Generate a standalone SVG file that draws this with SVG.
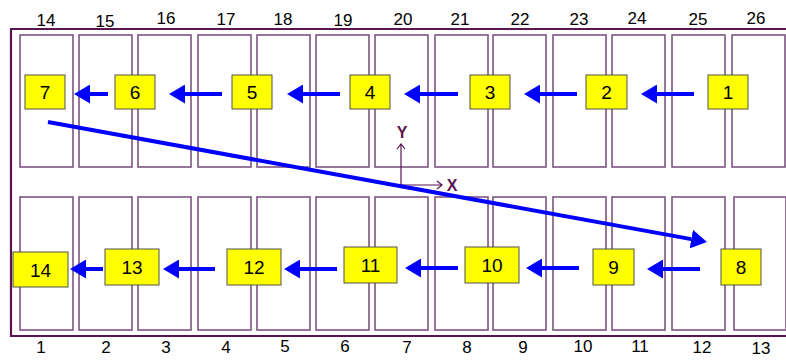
<svg xmlns="http://www.w3.org/2000/svg" width="786" height="360" viewBox="0 0 786 360">
<style>
.slot{fill:#ffffff;stroke:#7e5484;stroke-width:1.6}
.frame{fill:none;stroke:#5a1450;stroke-width:2.2}
.num{font-family:"Liberation Sans",Arial,sans-serif;font-size:17px;fill:#000;text-anchor:middle}
.box rect{fill:#ffff00;stroke:#505050;stroke-width:1}
.box text{font-family:"Liberation Sans",Arial,sans-serif;font-size:19px;fill:#000;text-anchor:middle}
.flow{stroke:#0000ff;stroke-width:4;fill:none;marker-end:url(#ah)}
.axis{stroke:#5a1450;stroke-width:1.2;fill:none}
.axlabel{font-family:"Liberation Sans",Arial,sans-serif;font-size:16px;font-weight:bold;fill:#5a1450;text-anchor:middle}
</style>
<defs>
<marker id="ah" markerUnits="userSpaceOnUse" viewBox="0 0 16 19" refX="0" refY="9.5" markerWidth="16" markerHeight="19" orient="auto">
<path d="M0,0 L16,9.5 L0,19 z" fill="#0000ff"/>
</marker>
</defs>
<rect width="786" height="360" fill="#ffffff"/>
<g id="frame">
<path class="frame" d="M786,29 H11 V336 H786"/>
</g>
<g id="slots-top">
<rect class="slot" x="20" y="35" width="53" height="132"/>
<rect class="slot" x="79" y="35" width="53" height="132"/>
<rect class="slot" x="138" y="35" width="53" height="132"/>
<rect class="slot" x="198" y="35" width="53" height="132"/>
<rect class="slot" x="257" y="35" width="53" height="132"/>
<rect class="slot" x="316" y="35" width="53" height="132"/>
<rect class="slot" x="375" y="35" width="53" height="132"/>
<rect class="slot" x="435" y="35" width="53" height="132"/>
<rect class="slot" x="493" y="35" width="53" height="132"/>
<rect class="slot" x="553" y="35" width="53" height="132"/>
<rect class="slot" x="612" y="35" width="53" height="132"/>
<rect class="slot" x="672" y="35" width="53" height="132"/>
<rect class="slot" x="732" y="35" width="53" height="132"/>
</g>
<g id="slots-bottom">
<rect class="slot" x="20" y="197" width="53" height="133"/>
<rect class="slot" x="79" y="197" width="53" height="133"/>
<rect class="slot" x="138" y="197" width="53" height="133"/>
<rect class="slot" x="198" y="197" width="53" height="133"/>
<rect class="slot" x="257" y="197" width="53" height="133"/>
<rect class="slot" x="316" y="197" width="53" height="133"/>
<rect class="slot" x="375" y="197" width="53" height="133"/>
<rect class="slot" x="435" y="197" width="53" height="133"/>
<rect class="slot" x="493" y="197" width="53" height="133"/>
<rect class="slot" x="553" y="197" width="53" height="133"/>
<rect class="slot" x="612" y="197" width="53" height="133"/>
<rect class="slot" x="672" y="197" width="53" height="133"/>
<rect class="slot" x="734" y="197" width="52" height="133"/>
</g>
<g id="labels-top">
<text class="num" x="46" y="26">14</text>
<text class="num" x="105" y="27">15</text>
<text class="num" x="166" y="24">16</text>
<text class="num" x="226" y="25">17</text>
<text class="num" x="283" y="25">18</text>
<text class="num" x="343" y="26">19</text>
<text class="num" x="403" y="25">20</text>
<text class="num" x="460" y="25">21</text>
<text class="num" x="520" y="25">22</text>
<text class="num" x="579" y="25">23</text>
<text class="num" x="637" y="24">24</text>
<text class="num" x="698" y="25">25</text>
<text class="num" x="756" y="24">26</text>
</g>
<g id="labels-bottom">
<text class="num" x="41" y="353">1</text>
<text class="num" x="106" y="353">2</text>
<text class="num" x="166" y="353">3</text>
<text class="num" x="226" y="353">4</text>
<text class="num" x="285" y="352">5</text>
<text class="num" x="345" y="352">6</text>
<text class="num" x="407" y="353">7</text>
<text class="num" x="467" y="353">8</text>
<text class="num" x="523" y="353">9</text>
<text class="num" x="583" y="352">10</text>
<text class="num" x="640" y="352">11</text>
<text class="num" x="702" y="353">12</text>
<text class="num" x="761" y="354">13</text>
</g>
<g id="axes">
<path class="axis" d="M401,185 V144 M397,149 L401,144 L405,149"/>
<path class="axis" d="M400,185 H442 M437,181 L442,185 L437,189"/>
<text class="axlabel" x="402" y="138">Y</text>
<text class="axlabel" x="452" y="191">X</text>
</g>
<g id="connectors">
<line class="flow" x1="108" y1="94" x2="90" y2="94"/>
<line class="flow" x1="222" y1="94" x2="185" y2="94"/>
<line class="flow" x1="340" y1="94" x2="303" y2="94"/>
<line class="flow" x1="458" y1="94" x2="420" y2="94"/>
<line class="flow" x1="577" y1="94" x2="540" y2="94"/>
<line class="flow" x1="694" y1="94" x2="657" y2="94"/>
<line class="flow" x1="48" y1="122" x2="691.3" y2="239.1"/>
<line class="flow" x1="700" y1="269" x2="663" y2="269"/>
<line class="flow" x1="579" y1="268" x2="542" y2="268"/>
<line class="flow" x1="458" y1="268" x2="421" y2="268"/>
<line class="flow" x1="337" y1="269" x2="300" y2="269"/>
<line class="flow" x1="215" y1="269" x2="179" y2="269"/>
<line class="flow" x1="103" y1="269" x2="86" y2="269"/>
</g>
<g id="n1" class="box"><rect x="708" y="75" width="40" height="34"/><text x="728" y="99">1</text></g>
<g id="n2" class="box"><rect x="586" y="75" width="41" height="34"/><text x="606.5" y="99">2</text></g>
<g id="n3" class="box"><rect x="470" y="75" width="40" height="34"/><text x="490" y="99">3</text></g>
<g id="n4" class="box"><rect x="350" y="75" width="40" height="34"/><text x="370" y="99">4</text></g>
<g id="n5" class="box"><rect x="232" y="75" width="40" height="34"/><text x="252" y="99">5</text></g>
<g id="n6" class="box"><rect x="115" y="75" width="40" height="34"/><text x="135" y="99">6</text></g>
<g id="n7" class="box"><rect x="25" y="75" width="40" height="34"/><text x="45" y="99">7</text></g>
<g id="n8" class="box"><rect x="721" y="249" width="40" height="36"/><text x="741" y="274">8</text></g>
<g id="n9" class="box"><rect x="593" y="249" width="41" height="36"/><text x="613.5" y="274">9</text></g>
<g id="n10" class="box"><rect x="465" y="247" width="54" height="36"/><text x="492" y="272">10</text></g>
<g id="n11" class="box"><rect x="344" y="247" width="53" height="36"/><text x="370.5" y="272">11</text></g>
<g id="n12" class="box"><rect x="227" y="249" width="54" height="36"/><text x="254" y="274">12</text></g>
<g id="n13" class="box"><rect x="105" y="249" width="54" height="36"/><text x="132" y="274">13</text></g>
<g id="n14" class="box"><rect x="13" y="252" width="55" height="35"/><text x="40.5" y="277">14</text></g>
</svg>
